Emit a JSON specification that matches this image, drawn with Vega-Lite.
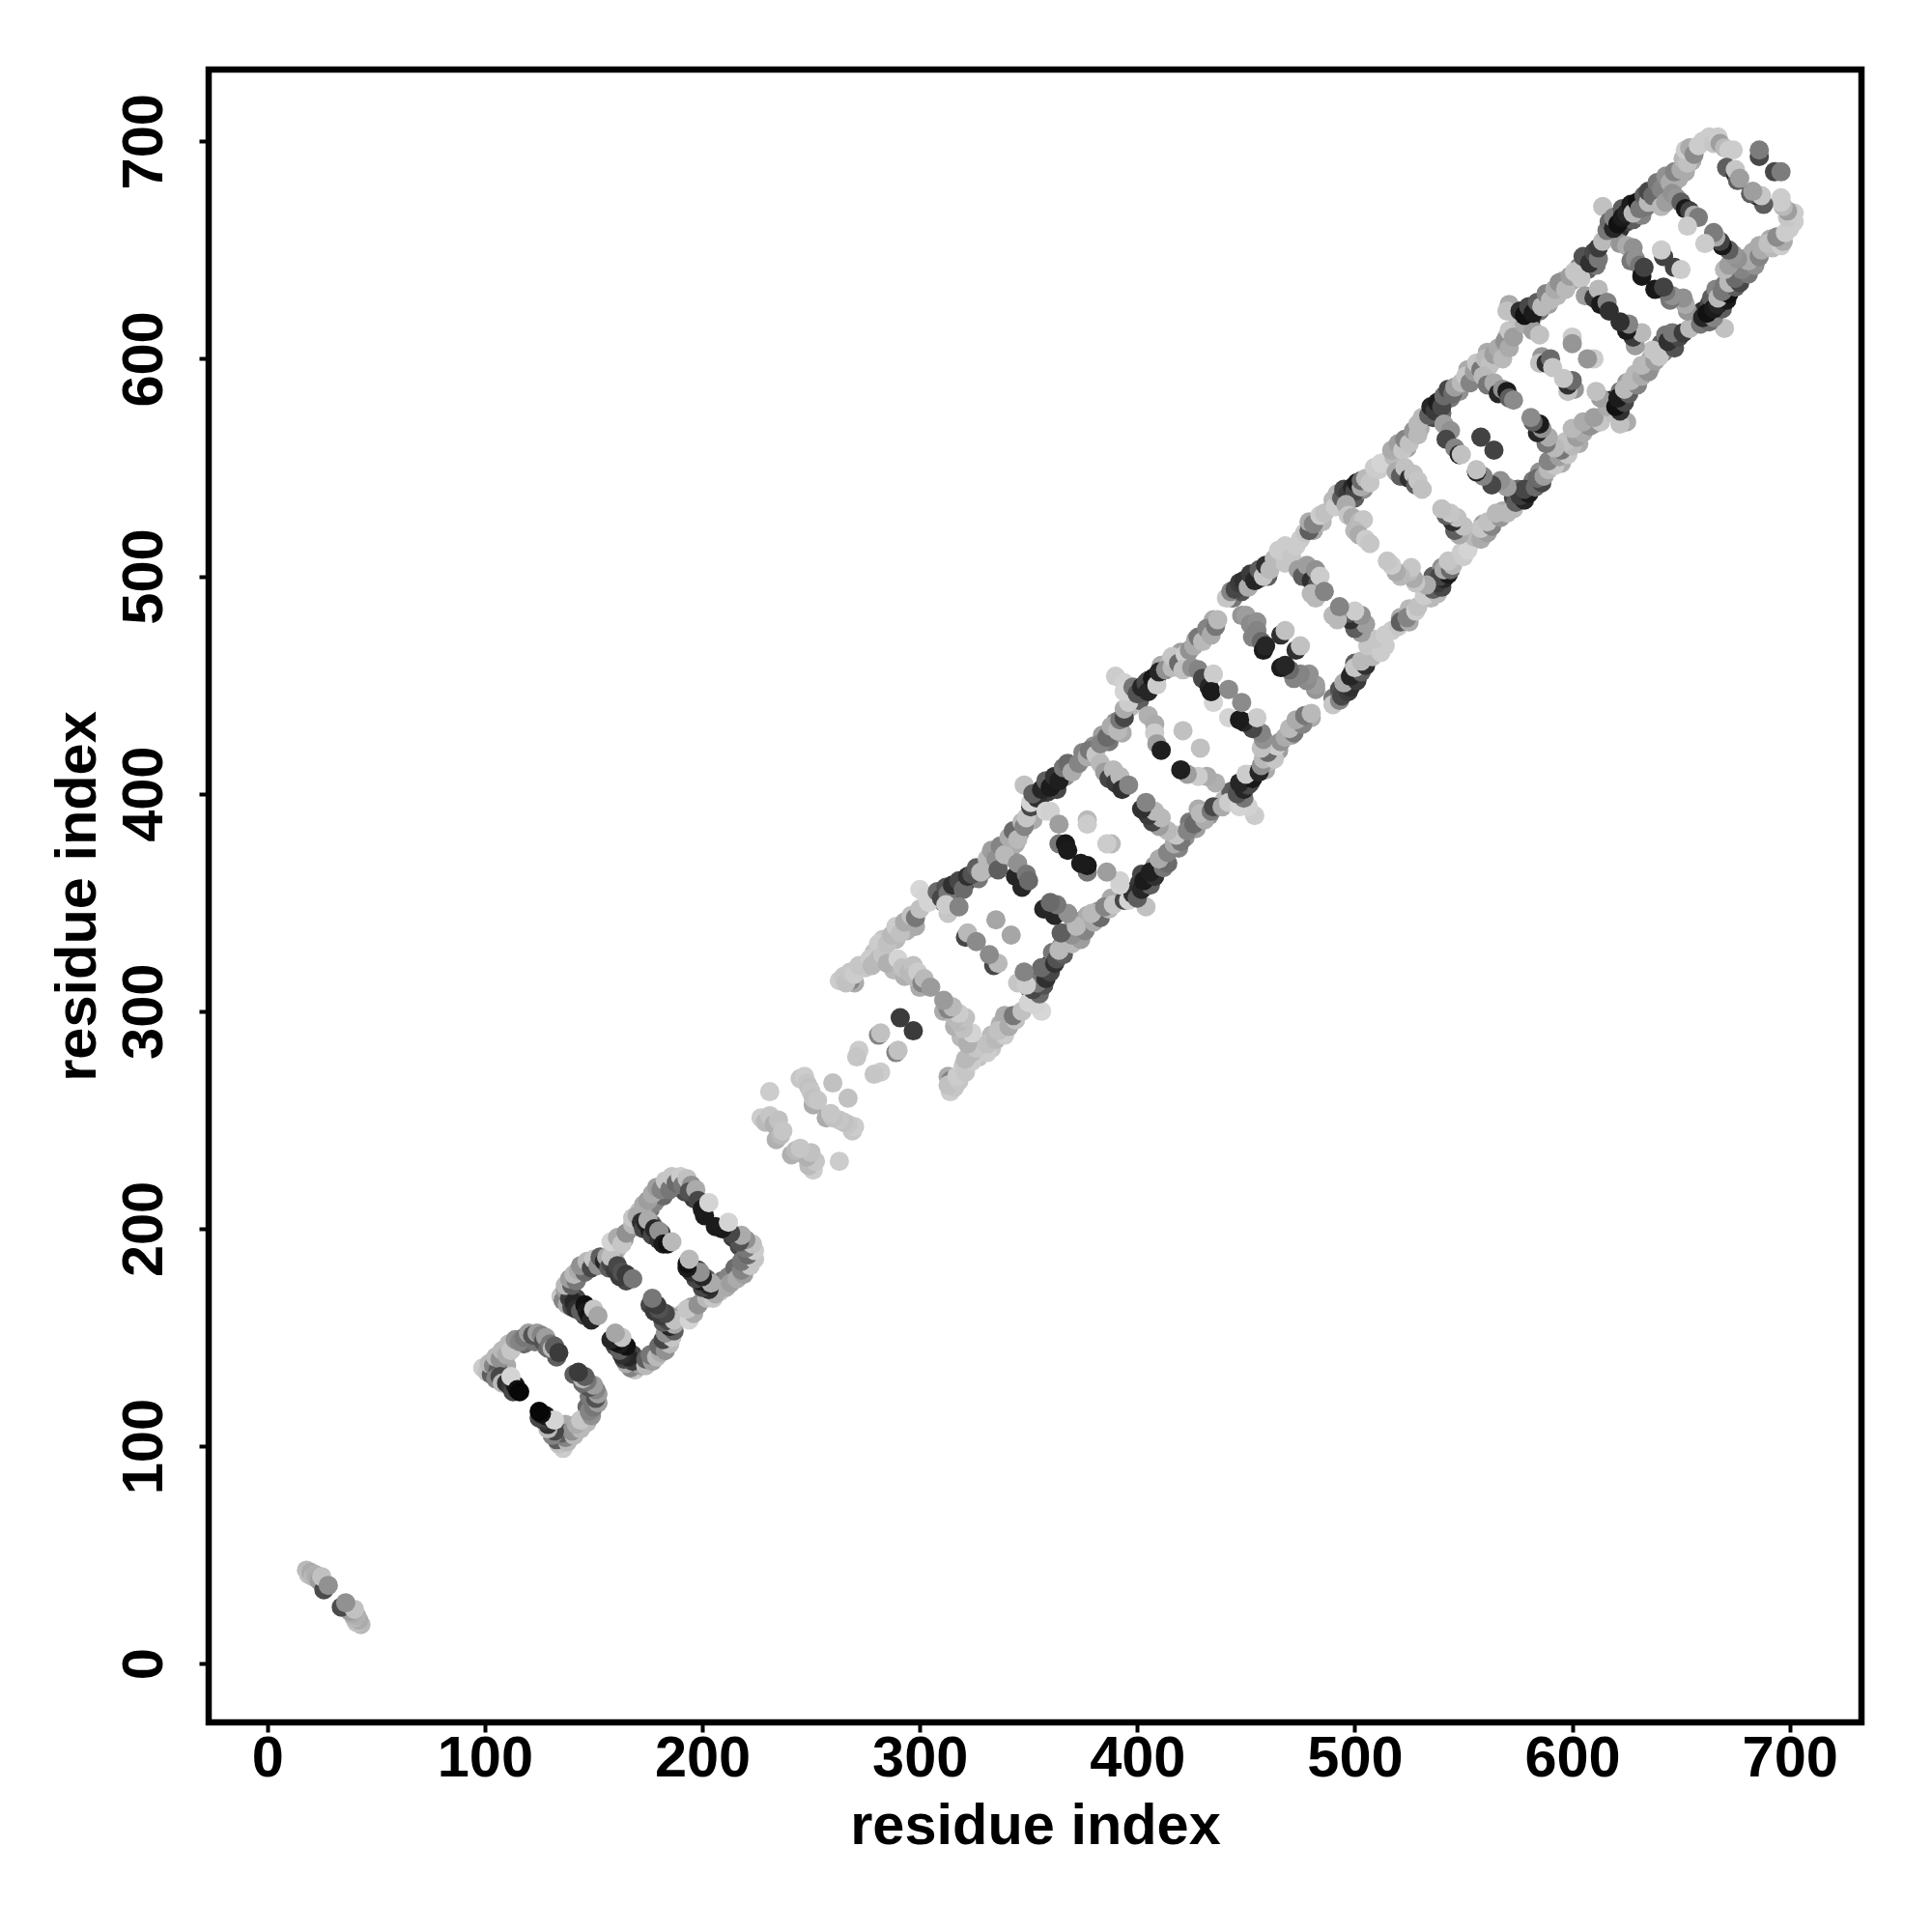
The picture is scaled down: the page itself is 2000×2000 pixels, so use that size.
{"$schema":"https://vega.github.io/schema/vega-lite/v6.json","autosize":"none","padding":{"left":216,"top":72,"right":73,"bottom":217},"width":1711,"height":1711,"background":"white","view":{"stroke":"black","strokeWidth":6.5,"fill":null},
"data":{"values":[
{"x":113,"y":146,"v":35},{"x":146,"y":113,"v":35},{"x":118,"y":147,"v":55},{"x":147,"y":118,"v":55},{"x":123,"y":148,"v":50},{"x":148,"y":123,"v":50},{"x":128,"y":146,"v":45},{"x":146,"y":128,"v":45},{"x":133,"y":141,"v":60},{"x":141,"y":133,"v":60},{"x":109,"y":134,"v":55},{"x":134,"y":109,"v":55},{"x":104,"y":134,"v":35},{"x":134,"y":104,"v":35},{"x":110,"y":137,"v":30},{"x":137,"y":110,"v":30},
{"x":139,"y":172,"v":65},{"x":172,"y":139,"v":65},{"x":143,"y":178,"v":40},{"x":178,"y":143,"v":40},{"x":147,"y":181,"v":45},{"x":181,"y":147,"v":45},{"x":153,"y":184,"v":50},{"x":184,"y":153,"v":50},{"x":161,"y":191,"v":25},{"x":191,"y":161,"v":25},{"x":164,"y":195,"v":35},{"x":195,"y":164,"v":35},{"x":170,"y":201,"v":45},{"x":201,"y":170,"v":45},{"x":172,"y":208,"v":30},{"x":208,"y":172,"v":30},{"x":176,"y":209,"v":50},{"x":209,"y":176,"v":50},{"x":178,"y":212,"v":45},{"x":212,"y":178,"v":45},{"x":182,"y":215,"v":55},{"x":215,"y":182,"v":55},{"x":187,"y":219,"v":60},{"x":219,"y":187,"v":60},{"x":192,"y":217,"v":70},{"x":217,"y":192,"v":70},{"x":196,"y":214,"v":75},{"x":214,"y":196,"v":75},{"x":142,"y":168,"v":70},{"x":168,"y":142,"v":70},{"x":146,"y":160,"v":70},{"x":160,"y":146,"v":70},{"x":165,"y":176,"v":70},{"x":176,"y":165,"v":70},{"x":160,"y":185,"v":35},{"x":185,"y":160,"v":35},{"x":177,"y":202,"v":60},{"x":202,"y":177,"v":60},{"x":181,"y":198,"v":75},{"x":198,"y":181,"v":75},
{"x":270,"y":313,"v":30},{"x":313,"y":270,"v":30},{"x":275,"y":320,"v":20},{"x":320,"y":275,"v":20},{"x":279,"y":327,"v":22},{"x":327,"y":279,"v":22},{"x":283,"y":333,"v":20},{"x":333,"y":283,"v":20},{"x":289,"y":333,"v":25},{"x":333,"y":289,"v":25},{"x":294,"y":337,"v":28},{"x":337,"y":294,"v":28},{"x":298,"y":339,"v":30},{"x":339,"y":298,"v":30},{"x":288,"y":319,"v":25},{"x":319,"y":288,"v":25},{"x":293,"y":316,"v":28},{"x":316,"y":293,"v":28},{"x":300,"y":311,"v":30},{"x":311,"y":300,"v":30},
{"x":311,"y":350,"v":60},{"x":350,"y":311,"v":60},{"x":316,"y":352,"v":70},{"x":352,"y":316,"v":70},{"x":321,"y":359,"v":75},{"x":359,"y":321,"v":75},{"x":327,"y":361,"v":50},{"x":361,"y":327,"v":50},{"x":330,"y":365,"v":40},{"x":365,"y":330,"v":40},{"x":334,"y":367,"v":30},{"x":367,"y":334,"v":30},{"x":338,"y":370,"v":35},{"x":370,"y":338,"v":35},{"x":342,"y":375,"v":40},{"x":375,"y":342,"v":40},{"x":344,"y":377,"v":30},{"x":377,"y":344,"v":30},{"x":346,"y":382,"v":35},{"x":382,"y":346,"v":35},{"x":352,"y":388,"v":30},{"x":388,"y":352,"v":30},
{"x":355,"y":396,"v":70},{"x":396,"y":355,"v":70},{"x":359,"y":401,"v":75},{"x":401,"y":359,"v":75},{"x":363,"y":402,"v":70},{"x":402,"y":363,"v":70},{"x":367,"y":408,"v":40},{"x":408,"y":367,"v":40},{"x":371,"y":412,"v":35},{"x":412,"y":371,"v":35},{"x":375,"y":419,"v":45},{"x":419,"y":375,"v":45},{"x":380,"y":422,"v":40},{"x":422,"y":380,"v":40},{"x":384,"y":427,"v":35},{"x":427,"y":384,"v":35},{"x":387,"y":424,"v":50},{"x":424,"y":387,"v":50},{"x":390,"y":433,"v":40},{"x":433,"y":390,"v":40},{"x":393,"y":428,"v":30},{"x":428,"y":393,"v":30},{"x":397,"y":440,"v":25},{"x":440,"y":397,"v":25},
{"x":401,"y":443,"v":60},{"x":443,"y":401,"v":60},{"x":405,"y":452,"v":60},{"x":452,"y":405,"v":60},{"x":409,"y":454,"v":70},{"x":454,"y":409,"v":70},{"x":411,"y":459,"v":30},{"x":459,"y":411,"v":30},{"x":415,"y":461,"v":25},{"x":461,"y":415,"v":25},{"x":420,"y":465,"v":35},{"x":465,"y":420,"v":35},{"x":423,"y":460,"v":35},{"x":460,"y":423,"v":35},{"x":427,"y":471,"v":35},{"x":471,"y":427,"v":35},{"x":431,"y":473,"v":40},{"x":473,"y":431,"v":40},{"x":435,"y":480,"v":30},{"x":480,"y":435,"v":30},
{"x":444,"y":490,"v":50},{"x":490,"y":444,"v":50},{"x":448,"y":493,"v":65},{"x":493,"y":448,"v":65},{"x":452,"y":497,"v":70},{"x":497,"y":452,"v":70},{"x":456,"y":499,"v":55},{"x":499,"y":456,"v":55},{"x":460,"y":500,"v":60},{"x":500,"y":460,"v":60},{"x":470,"y":511,"v":20},{"x":511,"y":470,"v":20},{"x":481,"y":521,"v":30},{"x":521,"y":481,"v":30},{"x":485,"y":525,"v":25},{"x":525,"y":485,"v":25},
{"x":492,"y":533,"v":55},{"x":533,"y":492,"v":55},{"x":496,"y":536,"v":65},{"x":536,"y":496,"v":65},{"x":500,"y":536,"v":60},{"x":536,"y":500,"v":60},{"x":504,"y":540,"v":40},{"x":540,"y":504,"v":40},{"x":524,"y":559,"v":35},{"x":559,"y":524,"v":35},{"x":530,"y":568,"v":30},{"x":568,"y":530,"v":30},{"x":536,"y":573,"v":70},{"x":573,"y":536,"v":70},{"x":540,"y":575,"v":55},{"x":575,"y":540,"v":55},{"x":544,"y":582,"v":50},{"x":582,"y":544,"v":50},{"x":548,"y":585,"v":40},{"x":585,"y":548,"v":40},{"x":552,"y":595,"v":30},{"x":595,"y":552,"v":30},{"x":557,"y":592,"v":40},{"x":592,"y":557,"v":40},{"x":561,"y":603,"v":30},{"x":603,"y":561,"v":30},{"x":566,"y":601,"v":35},{"x":601,"y":566,"v":35},{"x":570,"y":610,"v":30},{"x":610,"y":570,"v":30},
{"x":577,"y":618,"v":70},{"x":618,"y":577,"v":70},{"x":581,"y":618,"v":80},{"x":618,"y":581,"v":80},{"x":585,"y":622,"v":50},{"x":622,"y":585,"v":50},{"x":589,"y":625,"v":35},{"x":625,"y":589,"v":35},{"x":593,"y":629,"v":25},{"x":629,"y":593,"v":25},{"x":596,"y":636,"v":30},{"x":636,"y":596,"v":30},{"x":600,"y":636,"v":30},{"x":636,"y":600,"v":30},{"x":603,"y":642,"v":45},{"x":642,"y":603,"v":45},{"x":607,"y":641,"v":60},{"x":641,"y":607,"v":60},{"x":611,"y":643,"v":50},{"x":643,"y":611,"v":50},
{"x":618,"y":657,"v":65},{"x":657,"y":618,"v":65},{"x":620,"y":657,"v":70},{"x":657,"y":620,"v":70},{"x":622,"y":660,"v":80},{"x":660,"y":622,"v":80},{"x":625,"y":663,"v":70},{"x":663,"y":625,"v":70},{"x":628,"y":664,"v":60},{"x":664,"y":628,"v":60},{"x":632,"y":666,"v":45},{"x":666,"y":632,"v":45},{"x":634,"y":670,"v":50},{"x":670,"y":634,"v":50},{"x":638,"y":672,"v":40},{"x":672,"y":638,"v":40},{"x":642,"y":675,"v":40},{"x":675,"y":642,"v":40},{"x":646,"y":679,"v":35},{"x":679,"y":646,"v":35},{"x":649,"y":683,"v":30},{"x":683,"y":649,"v":30},{"x":652,"y":686,"v":30},{"x":686,"y":652,"v":30},{"x":655,"y":691,"v":30},{"x":691,"y":655,"v":30},
{"x":18,"y":43,"v":25},{"x":43,"y":18,"v":25},{"x":19,"y":41,"v":22},{"x":41,"y":19,"v":22},{"x":20,"y":42,"v":30},{"x":42,"y":20,"v":30},{"x":21,"y":40,"v":25},{"x":40,"y":21,"v":25},{"x":22,"y":41,"v":28},{"x":41,"y":22,"v":28},{"x":23,"y":39,"v":30},{"x":39,"y":23,"v":30},{"x":24,"y":38,"v":35},{"x":38,"y":24,"v":35},{"x":26,"y":34,"v":68},{"x":34,"y":26,"v":68},{"x":25,"y":40,"v":22},{"x":40,"y":25,"v":22},{"x":28,"y":36,"v":40},{"x":36,"y":28,"v":40},
{"x":99,"y":136,"v":18},{"x":136,"y":99,"v":18},{"x":101,"y":134,"v":22},{"x":134,"y":101,"v":22},{"x":103,"y":133,"v":60},{"x":133,"y":103,"v":60},{"x":102,"y":138,"v":25},{"x":138,"y":102,"v":25},{"x":104,"y":137,"v":45},{"x":137,"y":104,"v":45},{"x":106,"y":135,"v":60},{"x":135,"y":106,"v":60},{"x":105,"y":141,"v":25},{"x":141,"y":105,"v":25},{"x":107,"y":140,"v":40},{"x":140,"y":107,"v":40},{"x":105,"y":131,"v":45},{"x":131,"y":105,"v":45},{"x":107,"y":132,"v":70},{"x":132,"y":107,"v":70},{"x":108,"y":129,"v":25},{"x":129,"y":108,"v":25},{"x":108,"y":144,"v":25},{"x":144,"y":108,"v":25},{"x":110,"y":142,"v":30},{"x":142,"y":110,"v":30},{"x":111,"y":147,"v":25},{"x":147,"y":111,"v":25},{"x":112,"y":144,"v":20},{"x":144,"y":112,"v":20},{"x":110,"y":129,"v":80},{"x":129,"y":110,"v":80},{"x":112,"y":127,"v":75},{"x":127,"y":112,"v":75},{"x":113,"y":125,"v":70},{"x":125,"y":113,"v":70},{"x":114,"y":128,"v":90},{"x":128,"y":114,"v":90},{"x":112,"y":132,"v":15},{"x":132,"y":112,"v":15},{"x":115,"y":126,"v":95},{"x":126,"y":115,"v":95},{"x":116,"y":125,"v":98},{"x":125,"y":116,"v":98},{"x":114,"y":149,"v":40},{"x":149,"y":114,"v":40},{"x":116,"y":148,"v":45},{"x":148,"y":116,"v":45},{"x":118,"y":150,"v":50},{"x":150,"y":118,"v":50},{"x":120,"y":152,"v":35},{"x":152,"y":120,"v":35},{"x":122,"y":151,"v":65},{"x":151,"y":122,"v":65},{"x":124,"y":152,"v":35},{"x":152,"y":124,"v":35},{"x":126,"y":151,"v":45},{"x":151,"y":126,"v":45},{"x":127,"y":148,"v":65},{"x":148,"y":127,"v":65},{"x":128,"y":150,"v":35},{"x":150,"y":128,"v":35},{"x":129,"y":145,"v":55},{"x":145,"y":129,"v":55},{"x":130,"y":147,"v":50},{"x":147,"y":130,"v":50},{"x":131,"y":145,"v":25},{"x":145,"y":131,"v":25},{"x":132,"y":146,"v":60},{"x":146,"y":132,"v":60},{"x":134,"y":143,"v":75},{"x":143,"y":134,"v":75},
{"x":135,"y":169,"v":20},{"x":169,"y":135,"v":20},{"x":136,"y":167,"v":45},{"x":167,"y":136,"v":45},{"x":138,"y":165,"v":30},{"x":165,"y":138,"v":30},{"x":137,"y":172,"v":35},{"x":172,"y":137,"v":35},{"x":139,"y":168,"v":75},{"x":168,"y":139,"v":75},{"x":140,"y":164,"v":70},{"x":164,"y":140,"v":70},{"x":141,"y":166,"v":85},{"x":166,"y":141,"v":85},{"x":142,"y":163,"v":80},{"x":163,"y":142,"v":80},{"x":144,"y":162,"v":60},{"x":162,"y":144,"v":60},{"x":146,"y":165,"v":95},{"x":165,"y":146,"v":95},{"x":147,"y":162,"v":90},{"x":162,"y":147,"v":90},{"x":148,"y":160,"v":95},{"x":160,"y":148,"v":95},{"x":149,"y":158,"v":85},{"x":158,"y":149,"v":85},{"x":150,"y":163,"v":20},{"x":163,"y":150,"v":20},{"x":152,"y":160,"v":32},{"x":160,"y":152,"v":32},{"x":137,"y":174,"v":25},{"x":174,"y":137,"v":25},{"x":140,"y":174,"v":60},{"x":174,"y":140,"v":60},{"x":139,"y":177,"v":35},{"x":177,"y":139,"v":35},{"x":142,"y":176,"v":50},{"x":176,"y":142,"v":50},{"x":141,"y":179,"v":25},{"x":179,"y":141,"v":25},{"x":143,"y":181,"v":30},{"x":181,"y":143,"v":30},{"x":146,"y":180,"v":55},{"x":180,"y":146,"v":55},{"x":144,"y":183,"v":40},{"x":183,"y":144,"v":40},{"x":147,"y":185,"v":25},{"x":185,"y":147,"v":25},{"x":149,"y":182,"v":70},{"x":182,"y":149,"v":70},{"x":150,"y":186,"v":20},{"x":186,"y":150,"v":20},{"x":152,"y":183,"v":40},{"x":183,"y":152,"v":40},{"x":153,"y":187,"v":60},{"x":187,"y":153,"v":60},{"x":155,"y":185,"v":85},{"x":185,"y":155,"v":85},{"x":156,"y":187,"v":30},{"x":187,"y":156,"v":30},{"x":157,"y":182,"v":60},{"x":182,"y":157,"v":60},{"x":158,"y":184,"v":70},{"x":184,"y":158,"v":70},{"x":160,"y":181,"v":75},{"x":181,"y":160,"v":75},{"x":158,"y":187,"v":22},{"x":187,"y":158,"v":22},{"x":161,"y":183,"v":70},{"x":183,"y":161,"v":70},{"x":162,"y":178,"v":75},{"x":178,"y":162,"v":75},{"x":163,"y":180,"v":65},{"x":180,"y":163,"v":65},{"x":165,"y":179,"v":75},{"x":179,"y":165,"v":75},{"x":168,"y":177,"v":50},{"x":177,"y":168,"v":50},
{"x":158,"y":194,"v":15},{"x":194,"y":158,"v":15},{"x":161,"y":196,"v":30},{"x":196,"y":161,"v":30},{"x":163,"y":193,"v":20},{"x":193,"y":163,"v":20},{"x":165,"y":198,"v":40},{"x":198,"y":165,"v":40},{"x":168,"y":202,"v":25},{"x":202,"y":168,"v":25},{"x":168,"y":205,"v":20},{"x":205,"y":168,"v":20},{"x":171,"y":208,"v":20},{"x":208,"y":171,"v":20},{"x":173,"y":211,"v":30},{"x":211,"y":173,"v":30},{"x":175,"y":213,"v":35},{"x":213,"y":175,"v":35},{"x":177,"y":216,"v":30},{"x":216,"y":177,"v":30},{"x":179,"y":219,"v":35},{"x":219,"y":179,"v":35},{"x":181,"y":218,"v":45},{"x":218,"y":181,"v":45},{"x":183,"y":222,"v":20},{"x":222,"y":183,"v":20},{"x":185,"y":218,"v":50},{"x":218,"y":185,"v":50},{"x":186,"y":224,"v":20},{"x":224,"y":186,"v":20},{"x":188,"y":221,"v":55},{"x":221,"y":188,"v":55},{"x":190,"y":224,"v":18},{"x":224,"y":190,"v":18},{"x":191,"y":220,"v":50},{"x":220,"y":191,"v":50},{"x":193,"y":223,"v":22},{"x":223,"y":193,"v":22},{"x":195,"y":220,"v":40},{"x":220,"y":195,"v":40},{"x":194,"y":217,"v":65},{"x":217,"y":194,"v":65},{"x":197,"y":218,"v":30},{"x":218,"y":197,"v":30},{"x":198,"y":213,"v":70},{"x":213,"y":198,"v":70},{"x":200,"y":209,"v":90},{"x":209,"y":200,"v":90},{"x":201,"y":206,"v":90},{"x":206,"y":201,"v":90},{"x":203,"y":212,"v":15},{"x":212,"y":203,"v":15},
{"x":170,"y":206,"v":30},{"x":206,"y":170,"v":30},{"x":172,"y":203,"v":80},{"x":203,"y":172,"v":80},{"x":173,"y":200,"v":70},{"x":200,"y":173,"v":70},{"x":174,"y":203,"v":85},{"x":203,"y":174,"v":85},{"x":176,"y":199,"v":90},{"x":199,"y":176,"v":90},{"x":175,"y":204,"v":30},{"x":204,"y":175,"v":30},{"x":177,"y":197,"v":70},{"x":197,"y":177,"v":70},{"x":178,"y":200,"v":85},{"x":200,"y":178,"v":85},{"x":180,"y":195,"v":80},{"x":195,"y":180,"v":80},{"x":180,"y":199,"v":40},{"x":199,"y":180,"v":40},{"x":182,"y":193,"v":90},{"x":193,"y":182,"v":90},{"x":184,"y":193,"v":95},{"x":193,"y":184,"v":95},{"x":186,"y":194,"v":25},{"x":194,"y":186,"v":25},
{"x":231,"y":263,"v":18},{"x":263,"y":231,"v":18},{"x":227,"y":251,"v":18},{"x":251,"y":227,"v":18},{"x":229,"y":249,"v":24},{"x":249,"y":229,"v":24},{"x":231,"y":252,"v":20},{"x":252,"y":231,"v":20},{"x":233,"y":248,"v":28},{"x":248,"y":233,"v":28},{"x":235,"y":250,"v":22},{"x":250,"y":235,"v":22},{"x":234,"y":241,"v":28},{"x":241,"y":234,"v":28},{"x":236,"y":243,"v":25},{"x":243,"y":236,"v":25},{"x":237,"y":245,"v":20},{"x":245,"y":237,"v":20},{"x":245,"y":269,"v":20},{"x":269,"y":245,"v":20},{"x":247,"y":270,"v":18},{"x":270,"y":247,"v":18},{"x":248,"y":267,"v":20},{"x":267,"y":248,"v":20},{"x":249,"y":265,"v":22},{"x":265,"y":249,"v":22},{"x":250,"y":263,"v":20},{"x":263,"y":250,"v":20},{"x":251,"y":257,"v":30},{"x":257,"y":251,"v":30},{"x":251,"y":260,"v":22},{"x":260,"y":251,"v":22},{"x":253,"y":259,"v":20},{"x":259,"y":253,"v":20},{"x":260,"y":267,"v":22},{"x":267,"y":260,"v":22},{"x":272,"y":282,"v":18},{"x":282,"y":272,"v":18},{"x":271,"y":279,"v":20},{"x":279,"y":271,"v":20},{"x":281,"y":289,"v":45},{"x":289,"y":281,"v":45},{"x":282,"y":290,"v":22},{"x":290,"y":282,"v":22},{"x":291,"y":297,"v":75},{"x":297,"y":291,"v":75},
{"x":263,"y":314,"v":18},{"x":314,"y":263,"v":18},{"x":265,"y":316,"v":20},{"x":316,"y":265,"v":20},{"x":268,"y":314,"v":45},{"x":314,"y":268,"v":45},{"x":266,"y":313,"v":22},{"x":313,"y":266,"v":22},{"x":268,"y":318,"v":20},{"x":318,"y":268,"v":20},{"x":270,"y":317,"v":18},{"x":317,"y":270,"v":18},{"x":272,"y":321,"v":20},{"x":321,"y":272,"v":20},{"x":277,"y":324,"v":18},{"x":324,"y":277,"v":18},{"x":278,"y":321,"v":25},{"x":321,"y":278,"v":25},{"x":281,"y":331,"v":18},{"x":331,"y":281,"v":18},{"x":281,"y":324,"v":25},{"x":324,"y":281,"v":25},{"x":283,"y":326,"v":20},{"x":326,"y":283,"v":20},{"x":285,"y":331,"v":22},{"x":331,"y":285,"v":22},{"x":285,"y":322,"v":28},{"x":322,"y":285,"v":28},{"x":287,"y":335,"v":25},{"x":335,"y":287,"v":25},{"x":289,"y":339,"v":18},{"x":339,"y":289,"v":18},{"x":291,"y":336,"v":22},{"x":336,"y":291,"v":22},{"x":290,"y":324,"v":15},{"x":324,"y":290,"v":15},{"x":292,"y":320,"v":22},{"x":320,"y":292,"v":22},{"x":295,"y":318,"v":25},{"x":318,"y":295,"v":25},{"x":297,"y":321,"v":22},{"x":321,"y":297,"v":22},{"x":297,"y":316,"v":25},{"x":316,"y":297,"v":25},{"x":299,"y":318,"v":18},{"x":318,"y":299,"v":18},{"x":301,"y":313,"v":45},{"x":313,"y":301,"v":45},{"x":302,"y":315,"v":25},{"x":315,"y":302,"v":25},{"x":305,"y":311,"v":36},{"x":311,"y":305,"v":36},{"x":293,"y":341,"v":30},{"x":341,"y":293,"v":30},{"x":296,"y":344,"v":22},{"x":344,"y":296,"v":22},{"x":298,"y":343,"v":50},{"x":343,"y":298,"v":50},{"x":300,"y":347,"v":22},{"x":347,"y":300,"v":22},{"x":300,"y":356,"v":14},{"x":356,"y":300,"v":14},{"x":303,"y":353,"v":15},{"x":353,"y":303,"v":15},{"x":304,"y":350,"v":15},{"x":350,"y":304,"v":15},
{"x":308,"y":355,"v":55},{"x":355,"y":308,"v":55},{"x":310,"y":352,"v":70},{"x":352,"y":310,"v":70},{"x":312,"y":357,"v":65},{"x":357,"y":312,"v":65},{"x":313,"y":354,"v":50},{"x":354,"y":313,"v":50},{"x":315,"y":358,"v":80},{"x":358,"y":315,"v":80},{"x":318,"y":360,"v":70},{"x":360,"y":318,"v":70},{"x":320,"y":356,"v":55},{"x":356,"y":320,"v":55},{"x":322,"y":362,"v":80},{"x":362,"y":322,"v":80},{"x":324,"y":363,"v":65},{"x":363,"y":324,"v":65},{"x":326,"y":366,"v":60},{"x":366,"y":326,"v":60},{"x":328,"y":364,"v":25},{"x":364,"y":328,"v":25},{"x":331,"y":370,"v":25},{"x":370,"y":331,"v":25},{"x":333,"y":374,"v":35},{"x":374,"y":333,"v":35},{"x":335,"y":370,"v":40},{"x":370,"y":335,"v":40},{"x":337,"y":376,"v":45},{"x":376,"y":337,"v":45},{"x":336,"y":365,"v":60},{"x":365,"y":336,"v":60},{"x":339,"y":372,"v":25},{"x":372,"y":339,"v":25},{"x":341,"y":380,"v":30},{"x":380,"y":341,"v":30},{"x":343,"y":383,"v":55},{"x":383,"y":343,"v":55},{"x":345,"y":379,"v":25},{"x":379,"y":345,"v":25},{"x":347,"y":387,"v":25},{"x":387,"y":347,"v":25},{"x":348,"y":385,"v":45},{"x":385,"y":348,"v":45},{"x":349,"y":389,"v":20},{"x":389,"y":349,"v":20},{"x":313,"y":345,"v":20},{"x":345,"y":313,"v":20},{"x":312,"y":349,"v":18},{"x":349,"y":312,"v":18},{"x":318,"y":348,"v":45},{"x":348,"y":318,"v":45},{"x":321,"y":334,"v":70},{"x":334,"y":321,"v":70},{"x":322,"y":336,"v":25},{"x":336,"y":322,"v":25},{"x":326,"y":332,"v":42},{"x":332,"y":326,"v":42},{"x":335,"y":342,"v":32},{"x":342,"y":335,"v":32},{"x":344,"y":362,"v":85},{"x":362,"y":344,"v":85},{"x":345,"y":368,"v":40},{"x":368,"y":345,"v":40},{"x":347,"y":357,"v":85},{"x":357,"y":347,"v":85},{"x":349,"y":363,"v":50},{"x":363,"y":349,"v":50},{"x":350,"y":360,"v":55},{"x":360,"y":350,"v":55},
{"x":348,"y":404,"v":22},{"x":404,"y":348,"v":22},{"x":351,"y":394,"v":70},{"x":394,"y":351,"v":70},{"x":351,"y":396,"v":15},{"x":396,"y":351,"v":15},{"x":354,"y":398,"v":80},{"x":398,"y":354,"v":80},{"x":352,"y":400,"v":60},{"x":400,"y":352,"v":60},{"x":358,"y":392,"v":15},{"x":392,"y":358,"v":15},{"x":360,"y":392,"v":16},{"x":392,"y":360,"v":16},{"x":356,"y":402,"v":85},{"x":402,"y":356,"v":85},{"x":358,"y":406,"v":60},{"x":406,"y":358,"v":60},{"x":360,"y":403,"v":90},{"x":403,"y":360,"v":90},{"x":362,"y":408,"v":80},{"x":408,"y":362,"v":80},{"x":364,"y":406,"v":88},{"x":406,"y":364,"v":88},{"x":364,"y":386,"v":35},{"x":386,"y":364,"v":35},{"x":364,"y":377,"v":50},{"x":377,"y":364,"v":50},{"x":367,"y":377,"v":92},{"x":377,"y":367,"v":92},{"x":368,"y":374,"v":90},{"x":374,"y":368,"v":90},{"x":377,"y":388,"v":25},{"x":388,"y":377,"v":25},{"x":377,"y":386,"v":18},{"x":386,"y":377,"v":18},{"x":366,"y":412,"v":50},{"x":412,"y":366,"v":50},{"x":368,"y":414,"v":55},{"x":414,"y":368,"v":55},{"x":370,"y":410,"v":30},{"x":410,"y":370,"v":30},
{"x":373,"y":414,"v":45},{"x":414,"y":373,"v":45},{"x":377,"y":417,"v":30},{"x":417,"y":377,"v":30},{"x":378,"y":420,"v":50},{"x":420,"y":378,"v":50},{"x":381,"y":418,"v":20},{"x":418,"y":381,"v":20},{"x":383,"y":423,"v":45},{"x":423,"y":383,"v":45},{"x":386,"y":426,"v":55},{"x":426,"y":386,"v":55},{"x":388,"y":431,"v":30},{"x":431,"y":388,"v":30},{"x":391,"y":429,"v":25},{"x":429,"y":391,"v":25},{"x":392,"y":434,"v":50},{"x":434,"y":392,"v":50},{"x":394,"y":435,"v":70},{"x":435,"y":394,"v":70},{"x":394,"y":439,"v":30},{"x":439,"y":394,"v":30},{"x":396,"y":442,"v":18},{"x":442,"y":396,"v":18},{"x":390,"y":454,"v":18},{"x":454,"y":390,"v":18},{"x":394,"y":451,"v":16},{"x":451,"y":394,"v":16},{"x":394,"y":447,"v":15},{"x":447,"y":394,"v":15},{"x":398,"y":449,"v":50},{"x":449,"y":398,"v":50},{"x":400,"y":446,"v":65},{"x":446,"y":400,"v":65},{"x":402,"y":449,"v":85},{"x":449,"y":402,"v":85},{"x":404,"y":451,"v":70},{"x":451,"y":404,"v":70},{"x":405,"y":447,"v":85},{"x":447,"y":405,"v":85},{"x":407,"y":453,"v":92},{"x":453,"y":407,"v":92},{"x":409,"y":450,"v":18},{"x":450,"y":409,"v":18},{"x":410,"y":456,"v":85},{"x":456,"y":410,"v":85},{"x":413,"y":457,"v":40},{"x":457,"y":413,"v":40},{"x":416,"y":458,"v":25},{"x":458,"y":416,"v":25},{"x":416,"y":463,"v":20},{"x":463,"y":416,"v":20},{"x":419,"y":460,"v":55},{"x":460,"y":419,"v":55},{"x":422,"y":464,"v":18},{"x":464,"y":422,"v":18},{"x":424,"y":466,"v":40},{"x":466,"y":424,"v":40},{"x":426,"y":468,"v":30},{"x":468,"y":426,"v":30},{"x":428,"y":472,"v":50},{"x":472,"y":428,"v":50},{"x":430,"y":470,"v":25},{"x":470,"y":430,"v":25},{"x":432,"y":476,"v":45},{"x":476,"y":432,"v":45},{"x":434,"y":473,"v":30},{"x":473,"y":434,"v":30},{"x":436,"y":477,"v":50},{"x":477,"y":436,"v":50},{"x":437,"y":480,"v":25},{"x":480,"y":437,"v":25},
{"x":383,"y":414,"v":25},{"x":414,"y":383,"v":25},{"x":385,"y":410,"v":35},{"x":410,"y":385,"v":35},{"x":387,"y":407,"v":70},{"x":407,"y":387,"v":70},{"x":389,"y":411,"v":25},{"x":411,"y":389,"v":25},{"x":390,"y":405,"v":75},{"x":405,"y":390,"v":75},{"x":392,"y":408,"v":25},{"x":408,"y":392,"v":25},{"x":393,"y":402,"v":80},{"x":402,"y":393,"v":80},{"x":396,"y":404,"v":45},{"x":404,"y":396,"v":45},{"x":405,"y":436,"v":28},{"x":436,"y":405,"v":28},{"x":408,"y":432,"v":30},{"x":432,"y":408,"v":30},{"x":408,"y":428,"v":18},{"x":428,"y":408,"v":18},{"x":409,"y":423,"v":35},{"x":423,"y":409,"v":35},{"x":411,"y":420,"v":88},{"x":420,"y":411,"v":88},{"x":421,"y":429,"v":22},{"x":429,"y":421,"v":22},{"x":421,"y":457,"v":22},{"x":457,"y":421,"v":22},{"x":425,"y":458,"v":40},{"x":458,"y":425,"v":40},{"x":428,"y":457,"v":45},{"x":457,"y":428,"v":45},{"x":430,"y":453,"v":70},{"x":453,"y":430,"v":70},{"x":433,"y":449,"v":85},{"x":449,"y":433,"v":85},{"x":435,"y":455,"v":18},{"x":455,"y":435,"v":18},{"x":435,"y":442,"v":15},{"x":442,"y":435,"v":15},{"x":434,"y":447,"v":90},{"x":447,"y":434,"v":90},{"x":442,"y":448,"v":42},{"x":448,"y":442,"v":42},
{"x":441,"y":490,"v":20},{"x":490,"y":441,"v":20},{"x":443,"y":493,"v":45},{"x":493,"y":443,"v":45},{"x":445,"y":494,"v":70},{"x":494,"y":445,"v":70},{"x":447,"y":497,"v":75},{"x":497,"y":447,"v":75},{"x":449,"y":498,"v":80},{"x":498,"y":449,"v":80},{"x":451,"y":495,"v":30},{"x":495,"y":451,"v":30},{"x":452,"y":501,"v":75},{"x":501,"y":452,"v":75},{"x":454,"y":498,"v":85},{"x":498,"y":454,"v":85},{"x":456,"y":503,"v":60},{"x":503,"y":456,"v":60},{"x":458,"y":500,"v":20},{"x":500,"y":458,"v":20},{"x":459,"y":505,"v":80},{"x":505,"y":459,"v":80},{"x":461,"y":503,"v":25},{"x":503,"y":461,"v":25},{"x":463,"y":508,"v":25},{"x":508,"y":463,"v":25},{"x":468,"y":506,"v":20},{"x":506,"y":468,"v":20},{"x":465,"y":512,"v":18},{"x":512,"y":465,"v":18},{"x":468,"y":514,"v":18},{"x":514,"y":468,"v":18},{"x":471,"y":509,"v":20},{"x":509,"y":471,"v":20},{"x":473,"y":514,"v":18},{"x":514,"y":473,"v":18},{"x":475,"y":517,"v":18},{"x":517,"y":475,"v":18},{"x":477,"y":520,"v":20},{"x":520,"y":477,"v":20},{"x":479,"y":521,"v":60},{"x":521,"y":479,"v":60},{"x":479,"y":525,"v":30},{"x":525,"y":479,"v":30},{"x":481,"y":524,"v":45},{"x":524,"y":481,"v":45},{"x":484,"y":528,"v":18},{"x":528,"y":484,"v":18},{"x":486,"y":529,"v":22},{"x":529,"y":486,"v":22},{"x":474,"y":503,"v":35},{"x":503,"y":474,"v":35},{"x":476,"y":500,"v":60},{"x":500,"y":476,"v":60},{"x":478,"y":505,"v":35},{"x":505,"y":478,"v":35},{"x":480,"y":498,"v":80},{"x":498,"y":480,"v":80},{"x":482,"y":503,"v":40},{"x":503,"y":482,"v":40},{"x":483,"y":497,"v":65},{"x":497,"y":483,"v":65},{"x":484,"y":500,"v":18},{"x":500,"y":484,"v":18},{"x":482,"y":490,"v":25},{"x":490,"y":482,"v":25},{"x":480,"y":492,"v":25},{"x":492,"y":480,"v":25},{"x":486,"y":493,"v":45},{"x":493,"y":486,"v":45},{"x":448,"y":482,"v":38},{"x":482,"y":448,"v":38},{"x":450,"y":482,"v":35},{"x":482,"y":450,"v":35},{"x":452,"y":478,"v":42},{"x":478,"y":452,"v":42},{"x":455,"y":479,"v":40},{"x":479,"y":455,"v":40},{"x":455,"y":475,"v":45},{"x":475,"y":455,"v":45},{"x":453,"y":472,"v":45},{"x":472,"y":453,"v":45},{"x":457,"y":470,"v":55},{"x":470,"y":457,"v":55},{"x":458,"y":466,"v":90},{"x":466,"y":458,"v":90},{"x":459,"y":468,"v":85},{"x":468,"y":459,"v":85},{"x":466,"y":473,"v":80},{"x":473,"y":466,"v":80},{"x":468,"y":475,"v":22},{"x":475,"y":468,"v":22},
{"x":490,"y":535,"v":25},{"x":535,"y":490,"v":25},{"x":491,"y":532,"v":18},{"x":532,"y":491,"v":18},{"x":492,"y":538,"v":25},{"x":538,"y":492,"v":25},{"x":494,"y":536,"v":60},{"x":536,"y":494,"v":60},{"x":495,"y":540,"v":70},{"x":540,"y":495,"v":70},{"x":497,"y":538,"v":75},{"x":538,"y":497,"v":75},{"x":499,"y":541,"v":85},{"x":541,"y":499,"v":85},{"x":500,"y":539,"v":70},{"x":539,"y":500,"v":70},{"x":501,"y":543,"v":90},{"x":543,"y":501,"v":90},{"x":503,"y":541,"v":30},{"x":541,"y":503,"v":30},{"x":503,"y":544,"v":55},{"x":544,"y":503,"v":55},{"x":505,"y":545,"v":25},{"x":545,"y":505,"v":25},{"x":507,"y":543,"v":20},{"x":543,"y":507,"v":20},{"x":509,"y":550,"v":18},{"x":550,"y":509,"v":18},{"x":511,"y":549,"v":18},{"x":549,"y":511,"v":18},{"x":512,"y":552,"v":15},{"x":552,"y":512,"v":15},{"x":515,"y":553,"v":15},{"x":553,"y":515,"v":15},{"x":518,"y":555,"v":25},{"x":555,"y":518,"v":25},{"x":517,"y":558,"v":30},{"x":558,"y":517,"v":30},{"x":520,"y":561,"v":35},{"x":561,"y":520,"v":35},{"x":522,"y":558,"v":20},{"x":558,"y":522,"v":20},{"x":523,"y":563,"v":45},{"x":563,"y":523,"v":45},{"x":525,"y":561,"v":22},{"x":561,"y":525,"v":22},{"x":527,"y":567,"v":38},{"x":567,"y":527,"v":38},{"x":529,"y":565,"v":25},{"x":565,"y":529,"v":25},{"x":529,"y":570,"v":25},{"x":570,"y":529,"v":25},{"x":531,"y":573,"v":25},{"x":573,"y":531,"v":25},{"x":534,"y":574,"v":60},{"x":574,"y":534,"v":60},{"x":535,"y":578,"v":85},{"x":578,"y":535,"v":85},{"x":537,"y":576,"v":75},{"x":576,"y":537,"v":75},{"x":538,"y":580,"v":90},{"x":580,"y":538,"v":90},{"x":540,"y":578,"v":70},{"x":578,"y":540,"v":70},{"x":541,"y":583,"v":55},{"x":583,"y":541,"v":55},{"x":543,"y":586,"v":70},{"x":586,"y":543,"v":70},{"x":545,"y":584,"v":55},{"x":584,"y":545,"v":55},{"x":546,"y":587,"v":35},{"x":587,"y":546,"v":35},{"x":549,"y":589,"v":25},{"x":589,"y":549,"v":25},{"x":551,"y":592,"v":20},{"x":592,"y":551,"v":20},{"x":553,"y":589,"v":45},{"x":589,"y":553,"v":45},{"x":555,"y":594,"v":35},{"x":594,"y":555,"v":35},{"x":556,"y":598,"v":20},{"x":598,"y":556,"v":20},{"x":558,"y":595,"v":50},{"x":595,"y":558,"v":50},{"x":560,"y":600,"v":25},{"x":600,"y":560,"v":25},{"x":562,"y":597,"v":22},{"x":597,"y":562,"v":22},{"x":564,"y":602,"v":35},{"x":602,"y":564,"v":35},{"x":566,"y":605,"v":30},{"x":605,"y":566,"v":30},{"x":568,"y":600,"v":25},{"x":600,"y":568,"v":25},{"x":569,"y":608,"v":40},{"x":608,"y":569,"v":40},{"x":571,"y":605,"v":30},{"x":605,"y":571,"v":30},{"x":571,"y":613,"v":20},{"x":613,"y":571,"v":20},{"x":573,"y":610,"v":35},{"x":610,"y":573,"v":35},
{"x":496,"y":533,"v":30},{"x":533,"y":496,"v":30},{"x":497,"y":528,"v":20},{"x":528,"y":497,"v":20},{"x":499,"y":527,"v":30},{"x":527,"y":499,"v":30},{"x":502,"y":525,"v":25},{"x":525,"y":502,"v":25},{"x":504,"y":526,"v":20},{"x":526,"y":504,"v":20},{"x":500,"y":521,"v":25},{"x":521,"y":500,"v":25},{"x":502,"y":519,"v":30},{"x":519,"y":502,"v":30},{"x":505,"y":517,"v":18},{"x":517,"y":505,"v":18},{"x":507,"y":515,"v":20},{"x":515,"y":507,"v":20},{"x":519,"y":548,"v":30},{"x":548,"y":519,"v":30},{"x":521,"y":546,"v":60},{"x":546,"y":521,"v":60},{"x":523,"y":550,"v":22},{"x":550,"y":523,"v":22},{"x":525,"y":545,"v":80},{"x":545,"y":525,"v":80},{"x":527,"y":547,"v":22},{"x":547,"y":527,"v":22},{"x":528,"y":542,"v":60},{"x":542,"y":528,"v":60},{"x":529,"y":544,"v":20},{"x":544,"y":529,"v":20},{"x":531,"y":540,"v":22},{"x":540,"y":531,"v":22},{"x":541,"y":570,"v":35},{"x":570,"y":541,"v":35},{"x":544,"y":567,"v":40},{"x":567,"y":544,"v":40},{"x":542,"y":563,"v":70},{"x":563,"y":542,"v":70},{"x":546,"y":559,"v":45},{"x":559,"y":546,"v":45},{"x":548,"y":556,"v":85},{"x":556,"y":548,"v":85},{"x":549,"y":556,"v":22},{"x":556,"y":549,"v":22},{"x":558,"y":564,"v":72},{"x":564,"y":558,"v":72},{"x":559,"y":592,"v":25},{"x":592,"y":559,"v":25},{"x":561,"y":588,"v":50},{"x":588,"y":561,"v":50},{"x":564,"y":589,"v":30},{"x":589,"y":564,"v":30},{"x":566,"y":584,"v":85},{"x":584,"y":566,"v":85},{"x":568,"y":586,"v":40},{"x":586,"y":568,"v":40},{"x":570,"y":585,"v":90},{"x":585,"y":570,"v":90},{"x":571,"y":582,"v":60},{"x":582,"y":571,"v":60},{"x":573,"y":581,"v":42},{"x":581,"y":573,"v":42},
{"x":571,"y":625,"v":30},{"x":625,"y":571,"v":30},{"x":570,"y":622,"v":22},{"x":622,"y":570,"v":22},{"x":575,"y":619,"v":22},{"x":619,"y":575,"v":22},{"x":578,"y":616,"v":30},{"x":616,"y":578,"v":30},{"x":582,"y":613,"v":35},{"x":613,"y":582,"v":35},{"x":585,"y":611,"v":22},{"x":611,"y":585,"v":22},{"x":576,"y":622,"v":80},{"x":622,"y":576,"v":80},{"x":578,"y":620,"v":95},{"x":620,"y":578,"v":95},{"x":580,"y":624,"v":70},{"x":624,"y":580,"v":70},{"x":582,"y":621,"v":90},{"x":621,"y":582,"v":90},{"x":584,"y":626,"v":60},{"x":626,"y":584,"v":60},{"x":586,"y":624,"v":25},{"x":624,"y":586,"v":25},{"x":588,"y":630,"v":45},{"x":630,"y":588,"v":45},{"x":590,"y":627,"v":25},{"x":627,"y":590,"v":25},{"x":592,"y":632,"v":30},{"x":632,"y":592,"v":30},{"x":594,"y":635,"v":40},{"x":635,"y":594,"v":40},{"x":597,"y":632,"v":25},{"x":632,"y":597,"v":25},{"x":599,"y":638,"v":35},{"x":638,"y":599,"v":35},{"x":601,"y":640,"v":20},{"x":640,"y":601,"v":20},{"x":604,"y":637,"v":20},{"x":637,"y":604,"v":20},{"x":605,"y":647,"v":65},{"x":647,"y":605,"v":65},{"x":608,"y":644,"v":80},{"x":644,"y":608,"v":80},{"x":610,"y":649,"v":70},{"x":649,"y":610,"v":70},{"x":612,"y":646,"v":50},{"x":646,"y":612,"v":50},{"x":612,"y":651,"v":75},{"x":651,"y":612,"v":75},{"x":614,"y":654,"v":25},{"x":654,"y":614,"v":25},
{"x":586,"y":601,"v":38},{"x":601,"y":586,"v":38},{"x":585,"y":598,"v":22},{"x":598,"y":585,"v":22},{"x":588,"y":598,"v":80},{"x":598,"y":588,"v":80},{"x":590,"y":600,"v":55},{"x":600,"y":590,"v":55},{"x":591,"y":596,"v":20},{"x":596,"y":591,"v":20},{"x":600,"y":610,"v":18},{"x":610,"y":600,"v":18},{"x":600,"y":607,"v":38},{"x":607,"y":600,"v":38},{"x":606,"y":629,"v":35},{"x":629,"y":606,"v":35},{"x":610,"y":628,"v":75},{"x":628,"y":610,"v":75},{"x":612,"y":632,"v":25},{"x":632,"y":612,"v":25},{"x":613,"y":625,"v":90},{"x":625,"y":613,"v":90},{"x":616,"y":626,"v":45},{"x":626,"y":616,"v":45},{"x":617,"y":622,"v":80},{"x":622,"y":617,"v":80},
{"x":622,"y":653,"v":38},{"x":653,"y":622,"v":38},{"x":625,"y":652,"v":30},{"x":652,"y":625,"v":30},{"x":628,"y":651,"v":40},{"x":651,"y":628,"v":40},{"x":627,"y":645,"v":50},{"x":645,"y":627,"v":50},{"x":629,"y":646,"v":40},{"x":646,"y":629,"v":40},{"x":631,"y":643,"v":50},{"x":643,"y":631,"v":50},{"x":632,"y":638,"v":92},{"x":638,"y":632,"v":92},{"x":633,"y":642,"v":72},{"x":642,"y":633,"v":72},{"x":642,"y":647,"v":72},{"x":647,"y":642,"v":72},{"x":641,"y":650,"v":18},{"x":650,"y":641,"v":18},{"x":616,"y":659,"v":50},{"x":659,"y":616,"v":50},{"x":614,"y":670,"v":22},{"x":670,"y":614,"v":22},{"x":617,"y":663,"v":55},{"x":663,"y":617,"v":55},{"x":619,"y":660,"v":85},{"x":660,"y":619,"v":85},{"x":619,"y":665,"v":45},{"x":665,"y":619,"v":45},{"x":621,"y":662,"v":95},{"x":662,"y":621,"v":95},{"x":623,"y":669,"v":60},{"x":669,"y":623,"v":60},{"x":623,"y":665,"v":90},{"x":665,"y":623,"v":90},{"x":625,"y":667,"v":85},{"x":667,"y":625,"v":85},{"x":627,"y":671,"v":90},{"x":671,"y":627,"v":90},{"x":628,"y":667,"v":25},{"x":667,"y":628,"v":25},{"x":630,"y":672,"v":95},{"x":672,"y":630,"v":95},{"x":631,"y":669,"v":50},{"x":669,"y":631,"v":50},{"x":633,"y":675,"v":60},{"x":675,"y":633,"v":60},{"x":635,"y":672,"v":25},{"x":672,"y":635,"v":25},{"x":635,"y":677,"v":70},{"x":677,"y":635,"v":70},{"x":637,"y":675,"v":55},{"x":675,"y":637,"v":55},{"x":639,"y":681,"v":50},{"x":681,"y":639,"v":50},{"x":641,"y":678,"v":45},{"x":678,"y":641,"v":45},{"x":643,"y":684,"v":40},{"x":684,"y":643,"v":40},{"x":645,"y":681,"v":30},{"x":681,"y":645,"v":30},{"x":647,"y":686,"v":45},{"x":686,"y":647,"v":45},{"x":650,"y":687,"v":30},{"x":687,"y":650,"v":30},{"x":651,"y":692,"v":25},{"x":692,"y":651,"v":25},{"x":653,"y":690,"v":22},{"x":690,"y":653,"v":22},{"x":652,"y":696,"v":18},{"x":696,"y":652,"v":18},{"x":654,"y":697,"v":30},{"x":697,"y":654,"v":30},{"x":656,"y":694,"v":42},{"x":694,"y":656,"v":42},{"x":658,"y":698,"v":18},{"x":698,"y":658,"v":18},{"x":660,"y":700,"v":18},{"x":700,"y":660,"v":18},{"x":663,"y":702,"v":18},{"x":702,"y":663,"v":18},{"x":665,"y":699,"v":20},{"x":699,"y":665,"v":20},{"x":667,"y":702,"v":18},{"x":702,"y":667,"v":18},{"x":668,"y":699,"v":35},{"x":699,"y":668,"v":35},{"x":670,"y":697,"v":25},{"x":697,"y":670,"v":25},{"x":672,"y":696,"v":18},{"x":696,"y":672,"v":18},{"x":674,"y":696,"v":18},{"x":696,"y":674,"v":18},
{"x":641,"y":670,"v":25},{"x":670,"y":641,"v":25},{"x":643,"y":672,"v":35},{"x":672,"y":643,"v":35},{"x":646,"y":676,"v":40},{"x":676,"y":646,"v":40},{"x":648,"y":674,"v":38},{"x":674,"y":648,"v":38},{"x":650,"y":672,"v":60},{"x":672,"y":650,"v":60},{"x":652,"y":669,"v":92},{"x":669,"y":652,"v":92},{"x":654,"y":668,"v":72},{"x":668,"y":654,"v":72},{"x":656,"y":666,"v":30},{"x":666,"y":656,"v":30},{"x":658,"y":665,"v":48},{"x":665,"y":658,"v":48},{"x":653,"y":661,"v":18},{"x":661,"y":653,"v":18},{"x":671,"y":688,"v":60},{"x":688,"y":671,"v":60},{"x":675,"y":685,"v":80},{"x":685,"y":675,"v":80},{"x":676,"y":682,"v":60},{"x":682,"y":676,"v":60},{"x":675,"y":687,"v":20},{"x":687,"y":675,"v":20},{"x":677,"y":683,"v":35},{"x":683,"y":677,"v":35},{"x":686,"y":693,"v":70},{"x":693,"y":686,"v":70},{"x":686,"y":696,"v":48},{"x":696,"y":686,"v":48}
]},
"mark":{"type":"circle","opacity":1,"size":400},
"encoding":{
"x":{"field":"x","type":"quantitative","scale":{"domain":[-27,733],"nice":false,"zero":false},"axis":{"title":"residue index","values":[0,100,200,300,400,500,600,700],"grid":false,"domain":false,"tickColor":"black","tickWidth":4,"tickSize":10,"labelFont":"Liberation Sans","labelFontWeight":"bold","labelFontSize":59.5,"labelColor":"black","labelPadding":-2,"labelFlush":false,"labelOverlap":false,"titleFont":"Liberation Sans","titleFontWeight":"bold","titleFontSize":59.5,"titleColor":"black","titlePadding":12}},
"y":{"field":"y","type":"quantitative","scale":{"domain":[-27,733],"nice":false,"zero":false},"axis":{"title":"residue index","values":[0,100,200,300,400,500,600,700],"grid":false,"domain":false,"tickColor":"black","tickWidth":4,"tickSize":10,"labelFont":"Liberation Sans","labelFontWeight":"bold","labelFontSize":59.5,"labelColor":"black","labelAngle":-90,"labelAlign":"center","labelBaseline":"bottom","labelPadding":27,"labelFlush":false,"labelOverlap":false,"titleFont":"Liberation Sans","titleFontWeight":"bold","titleFontSize":59.5,"titleColor":"black","titlePadding":9}},
"color":{"field":"v","type":"quantitative","legend":null,"scale":{"domain":[0,100],"range":["#ffffff","#000000"]}}
}}
